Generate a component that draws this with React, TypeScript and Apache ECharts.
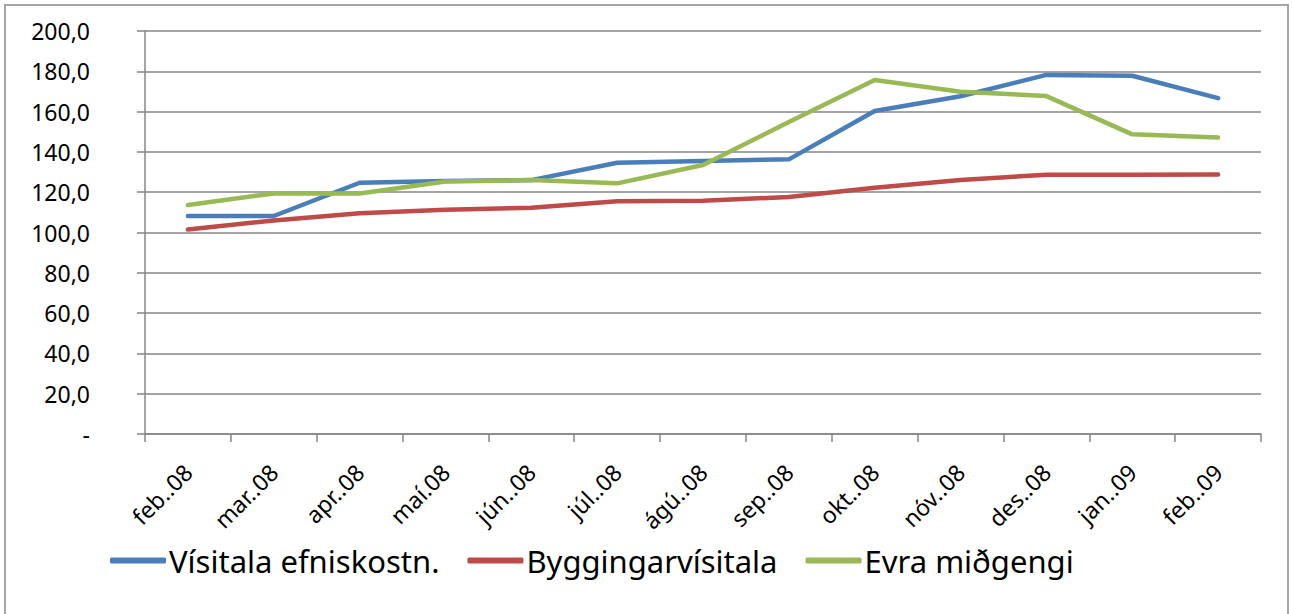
import React, { useEffect, useRef } from "react";
import * as echarts from "echarts";

const categories = ["feb..08", "mar..08", "apr..08", "maí.08", "jún..08", "júl..08", "ágú..08", "sep..08", "okt..08", "nóv..08", "des..08", "jan..09", "feb..09"];
const visitalaEfniskostn = [108.2, 108.2, 124.7, 125.5, 126.0, 134.6, 135.5, 136.3, 160.3, 167.6, 178.2, 177.8, 166.7];
const byggingarvisitala = [101.5, 106.0, 109.5, 111.3, 112.3, 115.5, 115.8, 117.6, 122.2, 126.0, 128.7, 128.7, 128.8];
const evraMidgengi = [113.6, 119.4, 119.4, 125.3, 126.0, 124.4, 133.5, 154.8, 175.7, 169.9, 167.7, 148.7, 147.2];

const FONT = "'Noto Sans', sans-serif";

export default function App() {
  const ref = useRef<HTMLDivElement>(null);
  useEffect(() => {
    if (!ref.current) return;
    const chart = echarts.init(ref.current, undefined, { renderer: "svg" });
    const grey = "#868686";
    const mk = (name: string, data: number[], color: string) => ({
      name,
      type: "line",
      data,
      symbol: "none",
      lineStyle: { color, width: 4.5, cap: "round", join: "round" },
      itemStyle: { color },
    });
    chart.setOption({
      animation: false,
      backgroundColor: "#ffffff",
      grid: { left: 145, right: 31, top: 31, bottom: 180, containLabel: false },
      xAxis: {
        type: "category",
        data: categories,
        boundaryGap: true,
        axisLine: { lineStyle: { color: grey, width: 1.5 } },
        axisTick: { show: true, length: 8, inside: false, lineStyle: { color: grey, width: 1.5 }, alignWithLabel: false },
        axisLabel: { rotate: 45, margin: 34, color: "#000", fontSize: 23, fontFamily: FONT, interval: 0 },
        splitLine: { show: false },
      },
      yAxis: {
        type: "value",
        min: 0,
        max: 200,
        interval: 20,
        axisLine: { show: true, lineStyle: { color: grey, width: 1.5 } },
        axisTick: { show: true, length: 8, lineStyle: { color: grey, width: 1.5 } },
        splitLine: { show: true, lineStyle: { color: grey, width: 1.5 } },
        axisLabel: {
          color: "#000",
          fontSize: 23,
          fontFamily: FONT,
          margin: 55,
          formatter: (v: number) => (v === 0 ? "-" : v.toFixed(1).replace(".", ",")),
        },
      },
      legend: {
        left: 105,
        top: 540,
        itemWidth: 56,
        itemHeight: 6,
        itemGap: 28,
        icon: "roundRect",
        textStyle: { color: "#000", fontSize: 31, fontFamily: FONT, padding: [0, 0, 0, -2] },
        data: ["Vísitala efniskostn.", "Byggingarvísitala", "Evra miðgengi"],
      },
      series: [
        mk("Vísitala efniskostn.", visitalaEfniskostn, "#4a7ebb"),
        mk("Byggingarvísitala", byggingarvisitala, "#be4b48"),
        mk("Evra miðgengi", evraMidgengi, "#98b954"),
      ],
    });
    return () => chart.dispose();
  }, []);
  return (
    <div style={{ position: "fixed", left: 0, top: 0, width: 1292, height: 614, background: "#fff" }}>
      <div ref={ref} style={{ position: "absolute", left: 0, top: 0, width: 1292, height: 614 }} />
      <div style={{ position: "absolute", left: 4, top: 4, width: 1285, height: 612, border: "2px solid #a6a6a6", boxSizing: "border-box", pointerEvents: "none" }} />
    </div>
  );
}
